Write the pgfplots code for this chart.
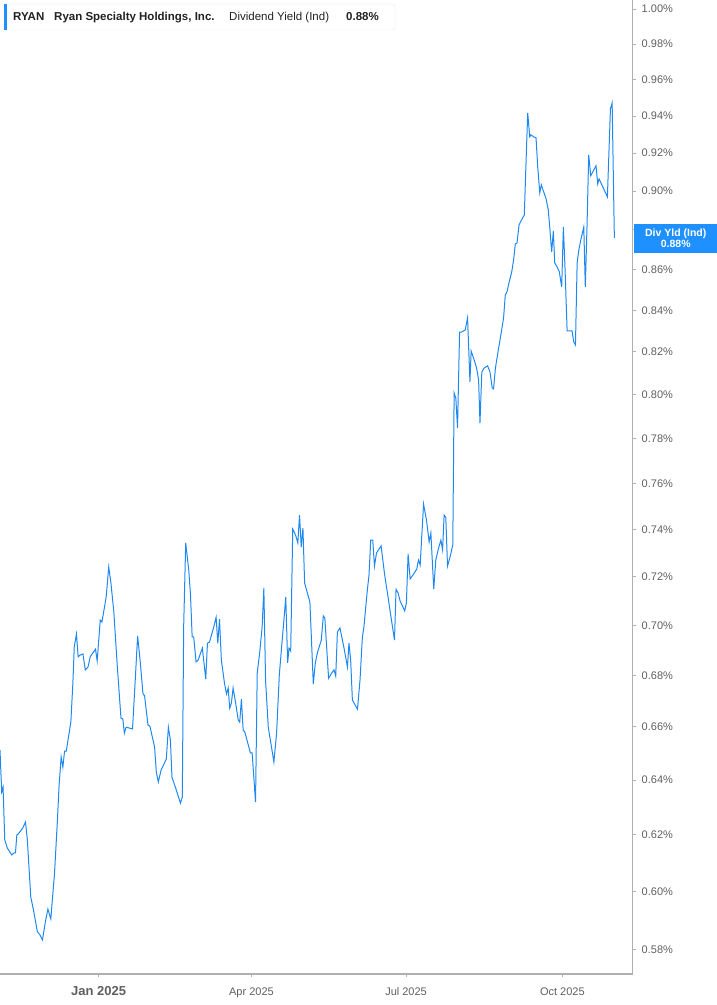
\documentclass[border=0pt]{standalone}
\usepackage{fontspec}
\setmainfont{Liberation Sans}
\usepackage{pgfplots}
\pgfplotsset{compat=1.18}
\definecolor{lineblue}{RGB}{30,136,240}
\definecolor{axisgray}{RGB}{176,176,176}
\definecolor{labelgray}{RGB}{95,95,95}
\definecolor{boxblue}{RGB}{30,144,255}
\definecolor{headtext}{RGB}{34,34,34}

% x: days from 1 Jan 2025, y: dividend yield in percent
\pgfplotstableread{
d y
-58.0 0.6512
-57.0 0.6356
-56.2 0.6374
-55.2 0.6182
-53.7 0.6153
-51.1 0.6128
-49.7 0.6135
-48.9 0.6135
-48.1 0.6200
-47.2 0.6203
-44.6 0.6225
-43.0 0.6246
-41.9 0.6182
-39.9 0.5981
-38.3 0.5936
-36.0 0.5861
-34.8 0.5854
-33.0 0.5834
-31.4 0.5892
-29.8 0.5939
-28.1 0.5905
-25.9 0.6064
-24.2 0.6253
-23.2 0.6382
-22.0 0.6486
-21.0 0.6448
-20.0 0.6508
-19.0 0.6508
-16.3 0.6618
-15.1 0.6770
-14.3 0.6912
-13.0 0.6965
-12.0 0.6873
-10.8 0.6880
-9.2 0.6885
-7.8 0.6821
-6.2 0.6833
-4.9 0.6873
-1.8 0.6904
-0.8 0.6857
1.0 0.7021
2.0 0.7013
4.5 0.7115
6.0 0.7240
7.3 0.7173
9.0 0.7054
11.0 0.6840
13.2 0.6634
14.3 0.6630
15.2 0.6576
16.2 0.6599
20.0 0.6592
21.6 0.6781
23.0 0.6957
24.6 0.6849
26.1 0.6731
27.1 0.6719
29.1 0.6607
30.2 0.6603
33.0 0.6523
34.0 0.6430
35.2 0.6393
36.8 0.6437
39.9 0.6478
41.1 0.6599
42.3 0.6550
43.2 0.6411
45.4 0.6370
48.2 0.6315
49.3 0.6337
50.1 0.6993
51.3 0.7342
53.1 0.7227
54.1 0.7128
55.1 0.6953
56.0 0.6953
57.4 0.6853
58.6 0.6860
61.1 0.6908
63.1 0.6785
64.1 0.6928
65.3 0.6932
67.8 0.6993
69.2 0.7033
70.2 0.6928
71.2 0.7025
72.3 0.6860
74.1 0.6770
75.3 0.6727
76.3 0.6750
77.2 0.6672
78.2 0.6692
79.2 0.6750
80.6 0.6696
82.2 0.6626
83.1 0.6618
84.1 0.6707
85.1 0.6588
86.1 0.6580
89.4 0.6501
90.4 0.6501
92.4 0.6319
93.4 0.6809
94.9 0.6893
96.3 0.6993
97.3 0.7153
98.3 0.6781
99.9 0.6599
101.8 0.6523
103.2 0.6467
104.8 0.6576
106.4 0.6801
107.7 0.6908
109.1 0.7021
110.2 0.7115
111.3 0.6849
112.1 0.6908
113.1 0.6896
114.3 0.7401
116.0 0.7375
117.3 0.7342
118.3 0.7461
119.3 0.7325
120.3 0.7405
121.3 0.7173
124.4 0.7095
126.4 0.6766
127.6 0.6849
128.8 0.6889
131.1 0.6940
132.3 0.7038
133.2 0.7029
135.4 0.6789
137.6 0.6813
138.6 0.6821
139.6 0.6797
140.6 0.6973
142.1 0.6989
144.5 0.6908
146.5 0.6833
147.4 0.6928
148.4 0.6860
149.4 0.6704
152.4 0.6668
153.9 0.6781
155.3 0.6953
156.2 0.6993
158.2 0.7144
159.2 0.7207
160.2 0.7354
161.4 0.7354
162.4 0.7244
163.6 0.7299
166.3 0.7329
168.4 0.7207
170.4 0.7115
172.4 0.7021
174.2 0.6940
175.1 0.7148
176.3 0.7132
177.5 0.7099
180.2 0.7058
181.2 0.7091
182.2 0.7295
183.4 0.7190
185.1 0.7207
187.3 0.7232
188.3 0.7270
189.3 0.7248
191.3 0.7509
193.0 0.7440
194.6 0.7346
195.6 0.7384
197.3 0.7148
198.5 0.7270
200.0 0.7316
201.5 0.7354
202.5 0.7312
203.4 0.7461
204.4 0.7452
205.4 0.7244
206.9 0.7282
208.5 0.7333
209.3 0.8007
210.3 0.7984
211.3 0.7847
212.5 0.8295
213.7 0.8295
215.8 0.8305
217.2 0.8363
218.6 0.8059
219.3 0.8204
221.1 0.8162
222.5 0.8124
223.7 0.8068
224.5 0.7870
225.6 0.8105
227.0 0.8124
229.0 0.8134
230.4 0.8105
231.7 0.8031
232.5 0.8026
233.6 0.8124
235.4 0.8214
236.8 0.8281
238.4 0.8363
239.4 0.8475
240.4 0.8490
241.7 0.8539
243.2 0.8589
244.3 0.8648
245.3 0.8729
246.3 0.8734
247.5 0.8826
249.0 0.8851
250.6 0.8877
251.6 0.9148
252.6 0.9417
253.8 0.9287
254.5 0.9298
256.1 0.9287
257.5 0.9282
258.5 0.9127
259.7 0.8991
260.6 0.9033
262.0 0.8996
263.4 0.8960
264.7 0.8903
265.7 0.8800
266.7 0.8689
267.7 0.8795
268.5 0.8634
269.9 0.8614
271.2 0.8589
272.6 0.8514
273.6 0.8815
274.6 0.8598
275.8 0.8300
277.1 0.8300
278.7 0.8300
279.7 0.8248
280.7 0.8233
281.7 0.8634
282.7 0.8699
284.0 0.8755
285.6 0.8815
286.5 0.8514
287.5 0.8815
288.5 0.9191
289.7 0.9080
290.9 0.9101
292.8 0.9133
293.8 0.9038
294.6 0.9064
296.8 0.9022
299.5 0.8970
301.3 0.9439
302.3 0.9471
303.6 0.8760
}\yielddata

\begin{document}
\begin{tikzpicture}[x=1pt,y=1pt]
\begin{axis}[
  at={(0pt,0pt)}, anchor=south west,
  scale only axis,
  width=632.7pt, height=974pt,
  ymode=log,
  xmin=-58, xmax=314.4,
  ymin=0.572, ymax=1.0053,
  axis x line*=bottom,
  axis y line*=right,
  axis line style={-, draw=axisgray, line width=1.3pt},
  tick align=outside,
  major tick length=3.5pt,
  tick style={draw=axisgray, line width=0.9pt},
  xtick={0,90,181,273},
  xticklabels={{\fontsize{13}{14}\selectfont\bfseries Jan 2025},Apr 2025,Jul 2025,Oct 2025},
  xticklabel style={font=\fontsize{11}{13}\selectfont, text=labelgray, anchor=base, yshift=-18pt},
  ytick={0.58,0.60,0.62,0.64,0.66,0.68,0.70,0.72,0.74,0.76,0.78,0.80,0.82,0.84,0.86,0.88,0.90,0.92,0.94,0.96,0.98,1.00},
  yticklabels={0.58\%,0.60\%,0.62\%,0.64\%,0.66\%,0.68\%,0.70\%,0.72\%,0.74\%,0.76\%,0.78\%,0.80\%,0.82\%,0.84\%,0.86\%,0.88\%,0.90\%,0.92\%,0.94\%,0.96\%,0.98\%,1.00\%},
  yticklabel style={font=\fontsize{11}{13}\selectfont, text=labelgray, anchor=west, xshift=2pt},
  yminorticks=false,
  clip=false,
]
\addplot[lineblue, line width=1pt, mark=none] table[x=d, y=y] {\yielddata};
\end{axis}

% header box
\draw[draw=black!10, fill=white, rounded corners=2pt] (4,944) rectangle (395,970);
\fill[boxblue] (4,944) rectangle (7,970);
\node[anchor=base west, inner sep=0, text=headtext, font=\bfseries\fontsize{11.5}{13}\selectfont] at (13,953) {RYAN};
\node[anchor=base west, inner sep=0, text=headtext, font=\bfseries\fontsize{11.5}{13}\selectfont] at (54,953) {Ryan Specialty Holdings, Inc.};
\node[anchor=base west, inner sep=0, text=headtext, font=\fontsize{11.5}{13}\selectfont] at (229,953) {Dividend Yield (Ind)};
\node[anchor=base west, inner sep=0, text=headtext, font=\bfseries\fontsize{11.5}{13}\selectfont] at (346,953) {0.88\%};

% current value flag
\node[anchor=west, fill=boxblue, minimum width=83pt, minimum height=29pt, inner sep=0] (flag) at (634,735.5) {};
\node[text=white, inner sep=0, font=\bfseries\fontsize{10.5}{12}\selectfont, anchor=base] at ([yshift=2pt]flag.center) {Div Yld (Ind)};
\node[text=white, inner sep=0, font=\bfseries\fontsize{10.5}{12}\selectfont, anchor=base] at ([yshift=-9pt]flag.center) {0.88\%};

\pgfresetboundingbox
\path (0,-31) rectangle (717,974);
\end{tikzpicture}
\end{document}
